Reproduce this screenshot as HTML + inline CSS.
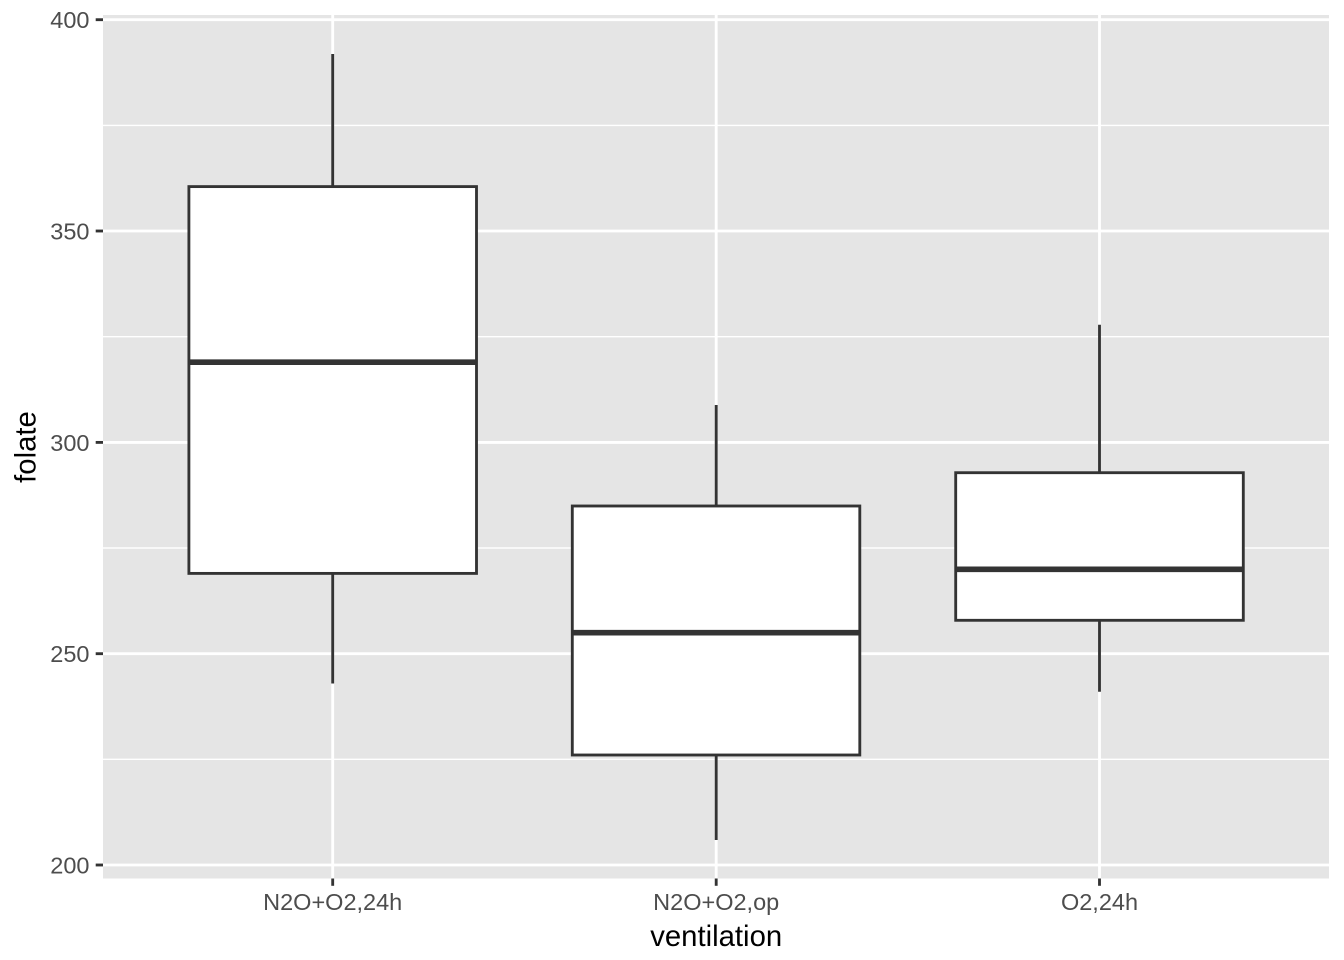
<!DOCTYPE html>
<html>
<head>
<meta charset="utf-8">
<style>
html,body{margin:0;padding:0;background:#fff;}
svg{display:block;}
text{font-family:"Liberation Sans",Arial,sans-serif;}
</style>
</head>
<body>
<svg width="1344" height="960" viewBox="0 0 1344 960" xmlns="http://www.w3.org/2000/svg">
  <rect x="0" y="0" width="1344" height="960" fill="#ffffff"/>
  <!-- panel -->
  <rect x="103" y="15" width="1226" height="863.5" fill="#E5E5E5"/>
  <!-- minor grid -->
  <g stroke="#ffffff" stroke-width="1.42">
    <line x1="103" x2="1329" y1="759.3" y2="759.3"/>
    <line x1="103" x2="1329" y1="548.0" y2="548.0"/>
    <line x1="103" x2="1329" y1="336.7" y2="336.7"/>
    <line x1="103" x2="1329" y1="125.4" y2="125.4"/>
  </g>
  <!-- major grid -->
  <g stroke="#ffffff" stroke-width="2.85">
    <line x1="103" x2="1329" y1="865" y2="865"/>
    <line x1="103" x2="1329" y1="653.7" y2="653.7"/>
    <line x1="103" x2="1329" y1="442.4" y2="442.4"/>
    <line x1="103" x2="1329" y1="231.0" y2="231.0"/>
    <line x1="103" x2="1329" y1="19.7" y2="19.7"/>
    <line y1="15" y2="878.5" x1="332.7" x2="332.7"/>
    <line y1="15" y2="878.5" x1="716.2" x2="716.2"/>
    <line y1="15" y2="878.5" x1="1099.5" x2="1099.5"/>
  </g>
  <!-- boxes -->
  <g stroke="#333333" stroke-width="2.85" fill="#ffffff">
    <!-- box 1 -->
    <line x1="332.7" x2="332.7" y1="54" y2="186.6"/>
    <line x1="332.7" x2="332.7" y1="573.4" y2="683.5"/>
    <rect x="188.9" y="186.6" width="287.6" height="386.8"/>
    <line x1="188.9" x2="476.5" y1="362.2" y2="362.2" stroke-width="5.7"/>
    <!-- box 2 -->
    <line x1="716.2" x2="716.2" y1="405" y2="506"/>
    <line x1="716.2" x2="716.2" y1="755" y2="840"/>
    <rect x="572.3" y="506" width="287.5" height="249"/>
    <line x1="572.3" x2="859.8" y1="632.7" y2="632.7" stroke-width="5.7"/>
    <!-- box 3 -->
    <line x1="1099.5" x2="1099.5" y1="324.7" y2="472.7"/>
    <line x1="1099.5" x2="1099.5" y1="620.3" y2="691.7"/>
    <rect x="955.7" y="472.7" width="287.6" height="147.6"/>
    <line x1="955.7" x2="1243.3" y1="569.3" y2="569.3" stroke-width="5.7"/>
  </g>
  <!-- ticks -->
  <g stroke="#333333" stroke-width="2.85">
    <line x1="95.7" x2="103" y1="865" y2="865"/>
    <line x1="95.7" x2="103" y1="653.7" y2="653.7"/>
    <line x1="95.7" x2="103" y1="442.4" y2="442.4"/>
    <line x1="95.7" x2="103" y1="231.0" y2="231.0"/>
    <line x1="95.7" x2="103" y1="19.7" y2="19.7"/>
    <line y1="878.5" y2="885.8" x1="332.7" x2="332.7"/>
    <line y1="878.5" y2="885.8" x1="716.2" x2="716.2"/>
    <line y1="878.5" y2="885.8" x1="1099.5" x2="1099.5"/>
  </g>
  <!-- y tick labels -->
  <g fill="#4D4D4D" font-size="23.5" text-anchor="end">
    <text x="89.5" y="873.4">200</text>
    <text x="89.5" y="662.1">250</text>
    <text x="89.5" y="450.8">300</text>
    <text x="89.5" y="239.4">350</text>
    <text x="89.5" y="28.1">400</text>
  </g>
  <!-- x tick labels -->
  <g fill="#4D4D4D" font-size="23.5" text-anchor="middle">
    <text x="332.7" y="910">N2O+O2,24h</text>
    <text x="716.2" y="910">N2O+O2,op</text>
    <text x="1099.5" y="910">O2,24h</text>
  </g>
  <!-- axis titles -->
  <text x="716.2" y="946" font-size="29.3" fill="#000000" text-anchor="middle">ventilation</text>
  <text transform="translate(35.5,447) rotate(-90)" font-size="29.3" fill="#000000" text-anchor="middle">folate</text>
</svg>
</body>
</html>
